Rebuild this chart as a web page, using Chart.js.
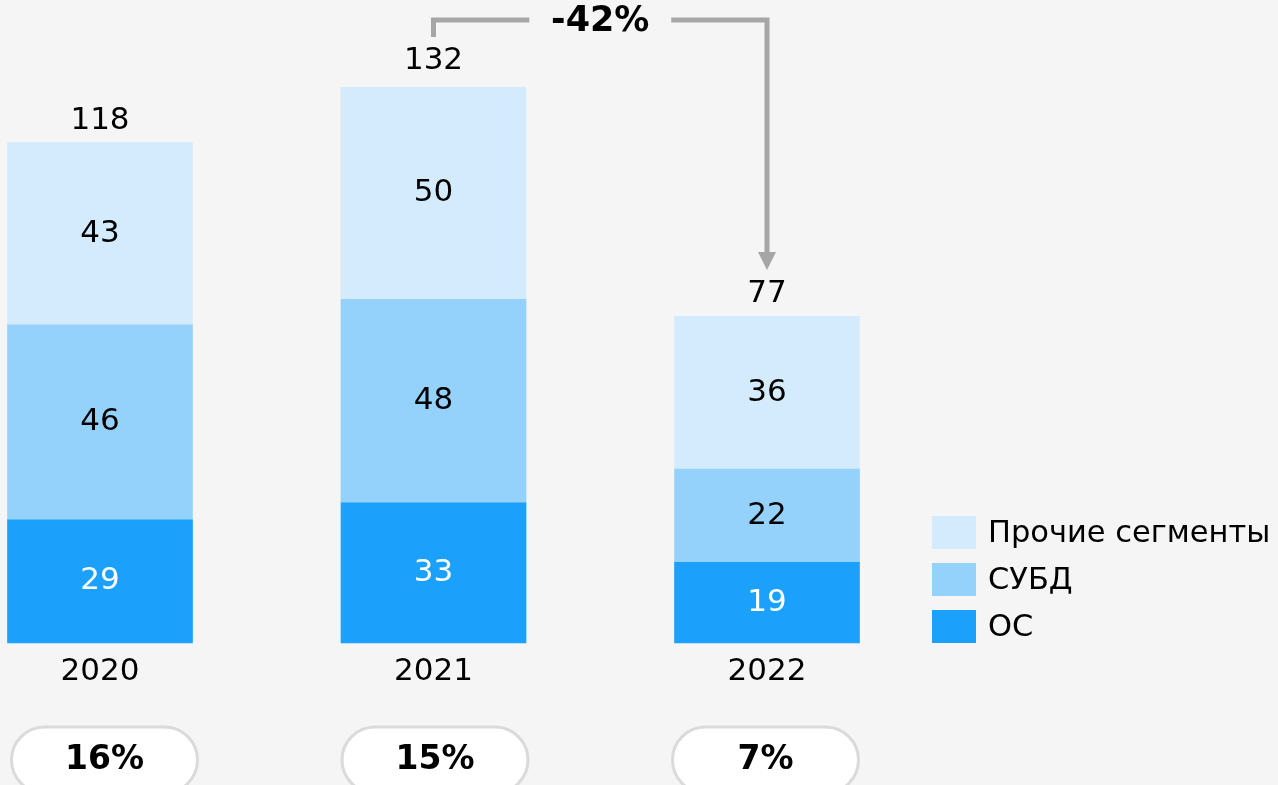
<!DOCTYPE html>
<html lang="ru">
<head>
    <meta charset="UTF-8">
    <title>Рынок ПО</title>
    <script src="https://cdn.jsdelivr.net/npm/chart.js"></script>
    <style>
        body {
            margin: 0;
            background-color: #f5f5f5;
        }
        canvas {
            display: block;
        }
    </style>
</head>
<body>
    <canvas id="marketChart" width="1278" height="785"></canvas>

    <script>
        // data
        var years = ['2020', '2021', '2022'];
        var osValues = [29, 33, 19];
        var dbmsValues = [46, 48, 22];
        var otherValues = [43, 50, 36];
        var totals = [118, 132, 77];
        var shares = ['16%', '15%', '7%'];
        var changeLabel = '-42%';

        var FONT = 'DejaVu Sans';
        var lineGrey = '#a6a6a6';

        // labels inside segments + totals above bars
        var valueLabels = {
            id: 'valueLabels',
            afterDatasetsDraw: function (chart) {
                var ctx = chart.ctx;
                ctx.save();
                ctx.font = '31px "' + FONT + '"';
                ctx.textAlign = 'center';
                ctx.textBaseline = 'middle';
                chart.data.datasets.forEach(function (ds, i) {
                    var meta = chart.getDatasetMeta(i);
                    meta.data.forEach(function (bar, j) {
                        ctx.fillStyle = ds.labelColor;
                        ctx.fillText(ds.data[j], bar.x, (bar.y + bar.base) / 2);
                    });
                });
                var y = chart.scales.y;
                var x = chart.scales.x;
                ctx.fillStyle = '#000';
                totals.forEach(function (t, j) {
                    ctx.fillText(t, x.getPixelForValue(j), y.getPixelForValue(t) - 22);
                });
                ctx.restore();
            }
        };

        // bracket with -42%, pills at the bottom, legend on the right
        var extras = {
            id: 'extras',
            afterDraw: function (chart) {
                var ctx = chart.ctx;
                var x = chart.scales.x;
                var x1 = x.getPixelForValue(1);
                var x2 = x.getPixelForValue(2);
                var mid = (x1 + x2) / 2;
                ctx.save();

                // bracket
                ctx.strokeStyle = lineGrey;
                ctx.lineWidth = 5;
                ctx.beginPath();
                ctx.moveTo(x1, 37);
                ctx.lineTo(x1, 20);
                ctx.lineTo(mid - 71, 20);
                ctx.moveTo(mid + 71, 20);
                ctx.lineTo(x2, 20);
                ctx.lineTo(x2, 254);
                ctx.stroke();
                ctx.fillStyle = lineGrey;
                ctx.beginPath();
                ctx.moveTo(x2 - 9, 252);
                ctx.lineTo(x2 + 9, 252);
                ctx.lineTo(x2, 270);
                ctx.closePath();
                ctx.fill();

                ctx.fillStyle = '#000';
                ctx.font = 'bold 35px "' + FONT + '"';
                ctx.textAlign = 'center';
                ctx.textBaseline = 'middle';
                ctx.fillText(changeLabel, mid, 22);

                // pills, slightly tighter spacing than the bars
                ctx.font = 'bold 33px "' + FONT + '"';
                shares.forEach(function (s, j) {
                    var cx = x.getPixelForValue(j) + 4.5 - 3 * j;
                    var w = 186, h = 66, top = 727;
                    ctx.beginPath();
                    ctx.roundRect(cx - w / 2, top, w, h, h / 2);
                    ctx.fillStyle = '#ffffff';
                    ctx.fill();
                    ctx.lineWidth = 3;
                    ctx.strokeStyle = '#dadada';
                    ctx.stroke();
                    ctx.fillStyle = '#000';
                    ctx.fillText(s, cx, 760);
                });

                // legend (top item = top segment)
                ctx.font = '30.5px "' + FONT + '"';
                ctx.textAlign = 'left';
                var items = chart.data.datasets.slice().reverse();
                items.forEach(function (ds, k) {
                    var top = 516 + k * 47;
                    ctx.fillStyle = ds.backgroundColor;
                    ctx.fillRect(932, top, 44, 33);
                    ctx.fillStyle = '#000';
                    ctx.fillText(ds.label, 988, top + 18);
                });
                ctx.restore();
            }
        };

        new Chart(document.getElementById('marketChart'), {
            type: 'bar',
            data: {
                labels: years,
                datasets: [{
                    label: 'ОС',
                    data: osValues,
                    backgroundColor: '#1ba1fc',
                    labelColor: '#ffffff',
                    barThickness: 185,
                    clip: false
                }, {
                    label: 'СУБД',
                    data: dbmsValues,
                    backgroundColor: '#94d2fc',
                    labelColor: '#000000',
                    barThickness: 185,
                    clip: false
                }, {
                    label: 'Прочие сегменты',
                    data: otherValues,
                    backgroundColor: '#d3ebfd',
                    labelColor: '#000000',
                    barThickness: 185,
                    clip: false
                }]
            },
            options: {
                responsive: false,
                animation: false,
                layout: {
                    padding: { left: 100, right: 511, top: 28, bottom: 83 }
                },
                plugins: {
                    legend: { display: false },
                    tooltip: { enabled: false }
                },
                scales: {
                    x: {
                        stacked: true,
                        offset: false,
                        grid: { display: false, drawTicks: false },
                        border: { display: false },
                        ticks: {
                            color: '#000',
                            padding: 11,
                            maxRotation: 0,
                            autoSkip: false,
                            font: { family: FONT, size: 31 }
                        }
                    },
                    y: {
                        stacked: true,
                        display: false,
                        min: 0,
                        max: 145
                    }
                }
            },
            plugins: [valueLabels, extras]
        });
    </script>
</body>
</html>
